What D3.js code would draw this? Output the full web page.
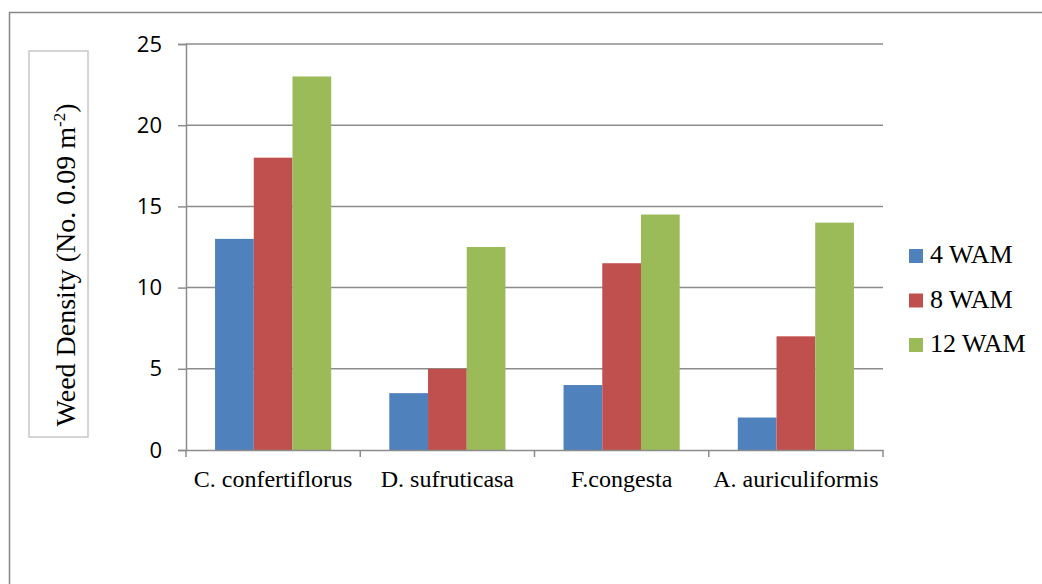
<!DOCTYPE html>
<html>
<head>
<meta charset="utf-8">
<script src="https://cdn.jsdelivr.net/npm/d3@7/dist/d3.min.js"></script>
<style>
  html, body { margin: 0; padding: 0; background: #fff; }
  svg { display: block; }
</style>
</head>
<body>
<svg id="chart" width="1042" height="584"></svg>
<script>
// Weed density per species at 4, 8 and 12 weeks after mulching
const categories = ["C. confertiflorus", "D. sufruticasa", "F.congesta", "A. auriculiformis"];
const seriesNames = ["4 WAM", "8 WAM", "12 WAM"];
const wam4 = [13, 3.5, 4, 2];
const wam8 = [18, 5, 11.5, 7];
const wam12 = [23, 12.5, 14.5, 14];
const yTicks = [0, 5, 10, 15, 20, 25];
const colors = ["#4F81BD", "#C0504D", "#9BBB59"];

const seriesValues = [wam4, wam8, wam12];

const svg = d3.select("#chart");
const plot = { left: 186, right: 883, top: 44, bottom: 450 };
const serif = "'Liberation Serif', 'Times New Roman', serif";

// outer chart frame
svg.append("rect")
  .attr("x", 9.5).attr("y", 12.5)
  .attr("width", 1100).attr("height", 700)
  .attr("fill", "none").attr("stroke", "#878787").attr("stroke-width", 1.5);

const x0 = d3.scaleBand().domain(categories).range([plot.left, plot.right]).paddingInner(0).paddingOuter(0);
// three bars per group, half a bar width of gap on each side (gap width 50%)
const x1 = d3.scaleBand().domain(seriesNames).range([0, x0.bandwidth()]).paddingInner(0).paddingOuter(0.75);
const y = d3.scaleLinear().domain([0, 25]).range([plot.bottom, plot.top]);

// horizontal gridlines
svg.append("g")
  .selectAll("line")
  .data(yTicks.filter(d => d > 0))
  .join("line")
  .attr("x1", plot.left).attr("x2", plot.right)
  .attr("y1", d => y(d)).attr("y2", d => y(d))
  .attr("stroke", "#8c8c8c").attr("stroke-width", 1.5);

// bars
const groups = svg.append("g")
  .selectAll("g")
  .data(categories)
  .join("g")
  .attr("transform", d => `translate(${x0(d)},0)`);

groups.selectAll("rect")
  .data((c, i) => seriesNames.map((s, j) => ({ s, v: seriesValues[j][i], j })))
  .join("rect")
  .attr("x", d => x1(d.s))
  .attr("width", x1.bandwidth())
  .attr("y", d => y(d.v))
  .attr("height", d => plot.bottom - y(d.v))
  .attr("fill", d => colors[d.j]);

// y axis
const yAxis = svg.append("g")
  .attr("transform", `translate(${plot.left},0)`)
  .call(d3.axisLeft(y).tickValues(yTicks).tickSize(8).tickPadding(16).tickFormat(d3.format("d")));
yAxis.select(".domain").attr("stroke", "#8c8c8c").attr("stroke-width", 1.5);
yAxis.selectAll(".tick line").attr("stroke", "#8c8c8c").attr("stroke-width", 1.5);
yAxis.selectAll(".tick text")
  .attr("font-family", "'Open Sans', 'Noto Sans', sans-serif")
  .attr("font-size", 22).attr("fill", "#000");

// x axis
const xAxis = svg.append("g")
  .attr("transform", `translate(0,${plot.bottom})`)
  .call(d3.axisBottom(x0).tickSize(0).tickPadding(0));
xAxis.select(".domain").attr("stroke", "#8c8c8c").attr("stroke-width", 1.5);
xAxis.selectAll(".tick text")
  .attr("y", 37).attr("dy", null)
  .attr("font-family", serif)
  .attr("font-size", 24).attr("fill", "#000");

// category boundary ticks below the axis
const bounds = categories.map(c => x0(c)).concat([plot.right]);
svg.append("g")
  .selectAll("line")
  .data(bounds)
  .join("line")
  .attr("x1", d => d).attr("x2", d => d)
  .attr("y1", plot.bottom).attr("y2", plot.bottom + 7)
  .attr("stroke", "#8c8c8c").attr("stroke-width", 1.5);

// y axis title in a framed box
svg.append("rect")
  .attr("x", 29).attr("y", 51).attr("width", 59).attr("height", 386)
  .attr("fill", "#fff").attr("stroke", "#c8c8c8").attr("stroke-width", 1.5);
const title = svg.append("text")
  .attr("transform", "translate(75,265) rotate(-90)")
  .attr("text-anchor", "middle")
  .attr("font-family", serif)
  .attr("font-size", 28).attr("fill", "#000");
title.append("tspan").text("Weed Density (No. 0.09 m");
title.append("tspan").attr("dy", -10).attr("font-size", 17).text("-2");
title.append("tspan").attr("dy", 10).text(")");

// legend
const legend = svg.append("g")
  .selectAll("g")
  .data(seriesNames)
  .join("g")
  .attr("transform", (d, i) => `translate(909,${263 + i * 44.5})`);
legend.append("rect")
  .attr("x", 0).attr("y", -14).attr("width", 14).attr("height", 14)
  .attr("fill", (d, i) => colors[i]);
legend.append("text")
  .attr("x", 21).attr("y", 0)
  .attr("font-family", serif)
  .attr("font-size", 26).attr("fill", "#000")
  .text(d => d);
</script>
</body>
</html>
